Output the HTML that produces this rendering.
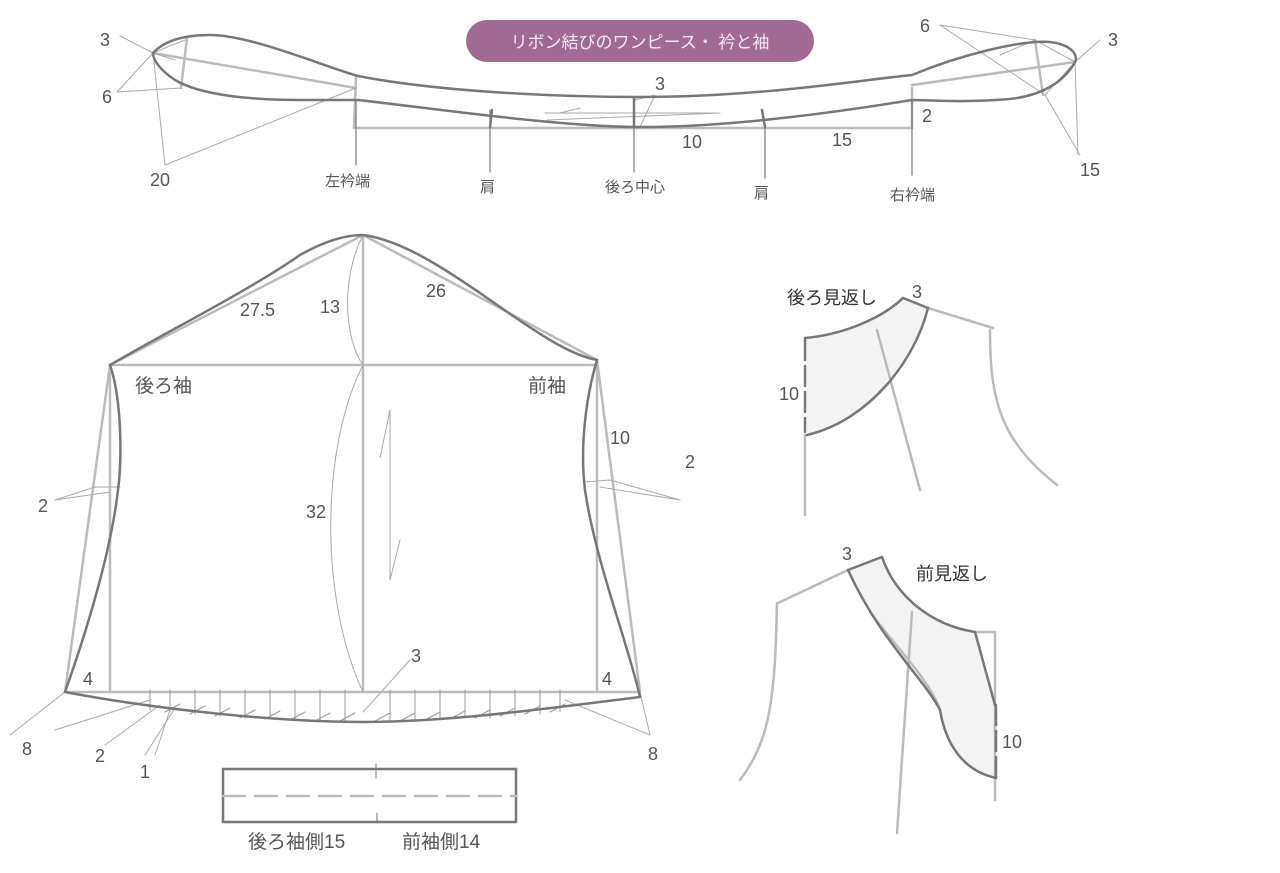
<!DOCTYPE html>
<html><head><meta charset="utf-8"><style>
body{margin:0;background:#fff;width:1280px;height:873px;overflow:hidden}
svg{display:block}
text{font-family:"Liberation Sans","Noto Sans CJK JP",sans-serif;fill:#555}
</style></head><body>
<svg width="1280" height="873" viewBox="0 0 1280 873">
<g fill="none" stroke-linecap="round">
<rect x="466" y="20" width="348" height="42" rx="21" fill="#a06a92" stroke="none"/>
<g stroke="#bbb" stroke-width="2.5">
<path d="M153 53 L356 88 M187 38 L181 88 M356 76 L354 128 L912 128 L912 88 M1075 62 L912 85 M1035 40 L1043 95"/>
</g>
<g stroke="#aaa" stroke-width="1">
<path d="M120 36 L153 53 L185 40 M117 92 L153 53 M117 92 L181 88 M153 53 L165 165 L356 88 M153 53 L175 60"/>
<path d="M940 25 L1035 40 M1000 55 L1035 40 L1075 62 M940 25 L1045 95 L1075 62 L1078 155 M1045 95 L1080 155 M1100 40 L1075 62"/>
<path d="M560 113 L580 108 M545 113 L715 113 M655 95 L635 100 M655 95 L640 127 M547 120 L720 113"/>
</g>
<g stroke="#777" stroke-width="2.5">
<path d="M153 53 C165 40 185 35 210 35 C250 35 320 65 358 76 C440 92 560 97 640 97 C760 97 860 80 912 75 C960 55 1020 40 1050 42 C1075 45 1078 58 1075 62 C1065 80 1045 95 1010 99 C960 103 930 100 912 100 C820 115 720 127 640 127 C560 127 430 108 358 100 L300 100 C250 100 200 95 175 80 C160 70 153 60 153 53 Z"/>
<path d="M634 97 L634 127 M492 110 L490 127 M762 110 L765 127"/>
</g>
<g stroke="#777" stroke-width="1.2">
<path d="M356 100 L356 165 M490 110 L490 172 M634 127 L634 172 M765 127 L765 178 M912 100 L912 175"/>
</g>
<g stroke="#bbb" stroke-width="2.5">
<path d="M110 365 L363 235 L597 360 M110 365 L597 365 M363 235 L363 692 M110 365 L110 690 M597 360 L597 690 M65 692 L640 692 M110 365 L65 692 M597 360 L640 692"/>
</g>
<g stroke="#aaa" stroke-width="1">
<path d="M363 235 C340 280 345 340 363 365 M363 365 C320 450 320 600 363 692"/>
<path d="M390 410 L380 458 L390 410 Z M390 410 L390 580 L400 540"/>
<path d="M55 500 L95 487 L120 487 M55 500 L110 492 M680 500 L610 480 L585 482 M680 500 L600 487"/>
<path d="M65 692 L10 735 M150 700 L55 730 M160 705 L105 745 M170 710 L155 755 M175 708 L145 755 M565 700 L650 735 M640 692 L650 735 M363 712 L410 660"/>
</g>
<g stroke="#999" stroke-width="1">
<path d="M150 690 v20 M170 690 v22 M195 690 v24 M220 690 v26 M245 690 v28 M270 690 v28 M295 690 v30 M320 690 v30 M345 690 v30 M390 690 v30 M415 690 v30 M440 690 v30 M465 690 v28 M490 690 v28 M515 690 v26 M540 690 v24 M560 690 v22"/>
<path d="M165 712 l15 -8 M190 714 l15 -8 M215 716 l15 -8 M240 718 l15 -8 M265 719 l15 -8 M290 720 l15 -8 M315 721 l15 -8 M340 721 l15 -8 M375 721 l15 -8 M400 721 l15 -8 M425 720 l15 -8 M450 719 l15 -8 M475 718 l15 -8 M500 716 l15 -8 M525 714 l15 -8 M550 712 l15 -8"/>
</g>
<g stroke="#777" stroke-width="2.5">
<path d="M110 365 C170 330 250 290 300 255 C330 238 350 235 363 235 C400 240 440 265 490 300 C540 335 570 355 597 360"/>
<path d="M110 365 C122 400 122 460 118 490 C110 560 80 650 65 692"/>
<path d="M597 360 C585 400 580 450 585 490 C595 560 630 650 640 697"/>
<path d="M65 692 C160 710 280 722 363 722 C450 722 550 708 640 697"/>
<rect x="223" y="769" width="293" height="53"/>
</g>
<path d="M223 796 L516 796" stroke="#bbb" stroke-width="2.5" stroke-dasharray="22 10"/>
<path d="M376 764 v14 M377 813 v10" stroke="#777" stroke-width="1"/>
<path d="M805 338 C840 335 880 320 903 298 L928 308 C915 360 870 420 807 435 Z" fill="#f3f3f3" stroke="none"/>
<g stroke="#bbb" stroke-width="2.5">
<path d="M928 308 L993 328 M990 330 C990 400 1000 440 1057 485 M877 330 L920 490 M805 435 L805 515"/>
</g>
<g stroke="#777" stroke-width="2.5">
<path d="M805 338 C840 335 880 320 903 298 L928 308 C915 360 870 420 807 435"/>
<path d="M805 340 L805 432" stroke-dasharray="20 6"/>
</g>
<path d="M848 570 L882 557 C895 595 930 625 975 632 L995 705 L996 778 C960 770 945 740 940 710 C925 680 880 640 848 570 Z" fill="#f3f3f3" stroke="none"/>
<g stroke="#bbb" stroke-width="2.5">
<path d="M848 570 L778 603 M777 603 C775 700 770 740 740 780 M995 632 L995 800 M975 632 L995 632 M912 612 L897 833 M870 612 C890 640 930 680 940 710"/>
</g>
<g stroke="#777" stroke-width="2.5">
<path d="M848 570 L882 557 C895 595 930 625 975 632 L995 705 M996 778 C960 770 945 740 940 710 C925 680 880 640 848 570"/>
<path d="M996 705 L996 778" stroke-dasharray="20 6"/>
</g>
</g>
<text x="640" y="48" text-anchor="middle" font-size="17" style="fill:#f4eaf2">リボン結びのワンピース・ 衿と袖</text>
<g font-size="18">
<text x="100" y="46">3</text><text x="102" y="103">6</text><text x="150" y="186">20</text>
<text x="655" y="90">3</text><text x="682" y="148">10</text><text x="832" y="146">15</text><text x="922" y="122">2</text>
<text x="920" y="32">6</text><text x="1108" y="46">3</text><text x="1080" y="176">15</text>
</g>
<g font-size="15"><text x="325" y="186">左衿端</text><text x="480" y="192">肩</text><text x="605" y="192">後ろ中心</text><text x="754" y="198">肩</text><text x="890" y="200">右衿端</text></g>
<g font-size="18">
<text x="240" y="316">27.5</text><text x="320" y="313">13</text><text x="426" y="297">26</text>
<text x="135" y="392" font-size="19">後ろ袖</text><text x="528" y="392" font-size="19">前袖</text>
<text x="610" y="444">10</text><text x="685" y="468">2</text><text x="38" y="512">2</text><text x="306" y="518">32</text>
<text x="411" y="662">3</text><text x="83" y="685">4</text><text x="602" y="685">4</text>
<text x="22" y="755">8</text><text x="95" y="762">2</text><text x="140" y="778">1</text><text x="648" y="760">8</text>
<text x="248" y="848" font-size="19">後ろ袖側15</text><text x="402" y="848" font-size="19">前袖側14</text>
<text x="787" y="304" style="fill:#333">後ろ見返し</text><text x="912" y="298">3</text><text x="779" y="400">10</text>
<text x="842" y="560">3</text><text x="916" y="580" style="fill:#333">前見返し</text><text x="1002" y="748">10</text>
</g>
</svg>
</body></html>
